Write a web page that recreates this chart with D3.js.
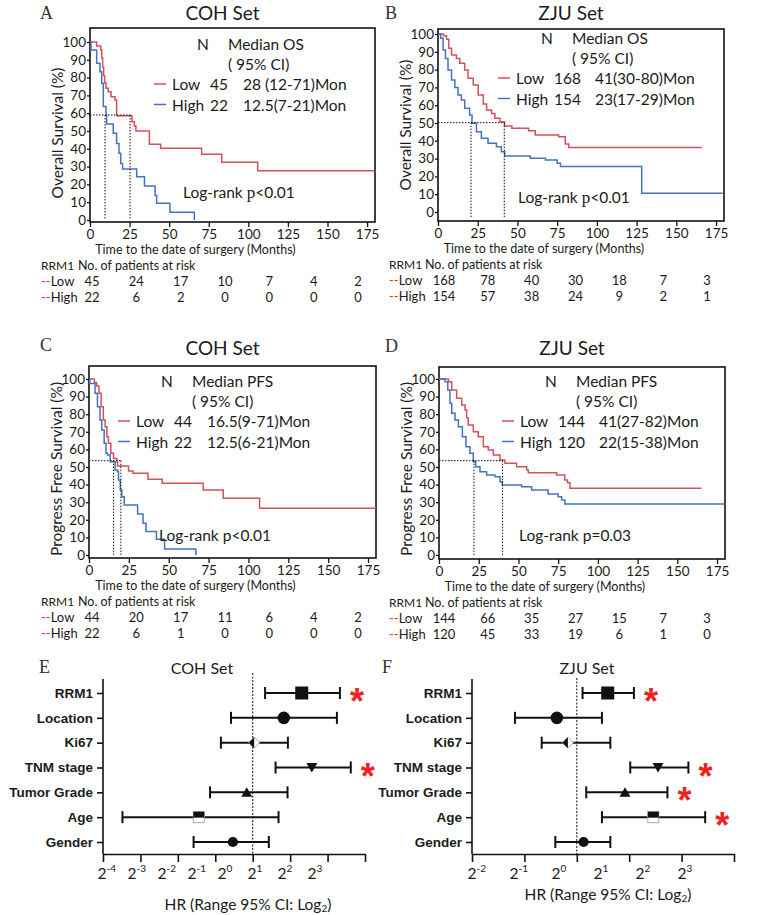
<!DOCTYPE html>
<html>
<head>
<meta charset="utf-8">
<script src="https://cdn.jsdelivr.net/npm/d3@7"></script>
<style>
  body { margin: 0; background: #fff; }
  text { fill: #1b1b1b; }
</style>
</head>
<body>
<svg id="fig" width="777" height="915"></svg>
<script>
// ---- data ----
const monthTicks = [0, 25, 50, 75, 100, 125, 150, 175];
const pctTicks = [0, 10, 20, 30, 40, 50, 60, 70, 80, 90, 100];

// Kaplan-Meier steps: [month, survival %]
const osCohLow = [[0,100],[4.2,97.8],[6.8,95.5],[7.4,91],[8,86],[8.6,81],[9.3,77],[10.1,74],[11.5,72],[13.3,69.3],[15.8,67.4],[16.8,58.6],[26.5,55.2],[28,52.8],[29,50],[37.5,42.5],[44.6,40.3],[70.5,36.9],[83.2,32.4],[105.9,27.7],[180,27.7]];
const osCohHigh = [[0,100],[0.6,95.5],[4.2,88],[6.3,83.3],[7.4,76.8],[8.4,63.7],[10.1,59],[10.5,54],[14.7,48.7],[16.8,43],[18.3,37.5],[19.4,31.8],[20.6,28.7],[29.5,24.3],[34.4,19.1],[41.1,13.7],[42.1,9.4],[50.5,4.3],[65.9,0]];
const osZjuLow = [[0,100],[3.4,99],[5.4,97],[6.8,92],[8.5,88.2],[11.6,86.3],[13.7,83.5],[16.8,79.8],[18.9,75.1],[22.2,71.3],[25.3,65.7],[28.5,60.7],[30.6,57.3],[33.7,55.4],[35.8,52.6],[39,50.7],[41.9,48.3],[46.5,47],[57,45.7],[61.2,43.3],[75.9,42.3],[80.1,38.2],[82.3,36.3],[166.1,36.3]];
const osZjuHigh = [[0,100],[1.7,97.6],[3.2,91],[4.7,86.3],[6.3,79.8],[8.5,74.2],[10.6,70],[12.6,65.7],[14.7,62.9],[16.8,58.3],[19.9,54.5],[21.4,49.8],[24.2,45.1],[27.3,41.4],[31.5,38.6],[36.8,36.7],[39.9,33.9],[42,31.5],[58.1,30.2],[67.6,29.2],[75,27.4],[77.1,25.5],[128.2,10.5],[179.2,10.5]];
const pfsCohLow = [[0,100],[3.4,98],[4.8,96],[6.3,91.9],[7.6,84.3],[9,76.7],[10.1,72.9],[11.2,67.2],[12.2,63.5],[13.7,57.8],[15.4,54.9],[17.5,53],[17.9,50.5],[24.8,47.7],[27.6,46.4],[37,43],[45.9,40.7],[71.6,36.9],[84.2,32.2],[107,26.5],[180,26.5]];
const pfsCohHigh = [[0,100],[0.5,97.5],[3.8,91.9],[5.3,84.3],[6.9,76.7],[8,71],[9.5,63.5],[10.7,57.8],[11.6,56.8],[13.3,53],[16.4,48.3],[17.9,47.3],[18.5,42.6],[19.6,36.9],[20.6,33.1],[22.1,28.4],[30.5,23.3],[33.9,18],[35.8,13.3],[42.3,8.9],[47.4,3.4],[67,0]];
const pfsZjuLow = [[0,100],[5.9,98.5],[8,93.8],[11.1,89],[14.3,85.2],[16.4,82.4],[17.4,78],[18.4,73.9],[21.6,70],[24.7,67.2],[27.9,61.5],[31,59.7],[34.2,56.8],[38.4,54],[41.5,52.1],[48.8,50.2],[55.2,48.3],[56.2,46.8],[74,45.5],[79.2,42.6],[80.9,41.1],[82.4,37.9],[165.2,37.9]];
const pfsZjuHigh = [[0,100],[3.8,98.5],[5.5,93.8],[6.9,86.2],[8,80.5],[10.1,76.7],[12.2,72.9],[14.7,67.2],[17,61.5],[19.5,57.8],[21.6,53],[23.1,50.2],[25.8,47.3],[30,45.5],[35.2,44.5],[38.4,41.6],[39.8,39.8],[52,38.8],[58.3,36.9],[68.7,34.7],[75,33.1],[77.2,31.2],[79.2,29],[180,29]];

// numbers at risk, columns 0..175 by 25
const riskOsCohLow = [45, 24, 17, 10, 7, 4, 2];
const riskOsCohHigh = [22, 6, 2, 0, 0, 0, 0];
const riskOsZjuLow = [168, 78, 40, 30, 18, 7, 3];
const riskOsZjuHigh = [154, 57, 38, 24, 9, 2, 1];
const riskPfsCohLow = [44, 20, 17, 11, 6, 4, 2];
const riskPfsCohHigh = [22, 6, 1, 0, 0, 0, 0];
const riskPfsZjuLow = [144, 66, 35, 27, 15, 7, 3];
const riskPfsZjuHigh = [120, 45, 33, 19, 6, 1, 0];

// forest plots (log2 HR)
const forestVars = ["RRM1", "Location", "Ki67", "TNM stage", "Tumor Grade", "Age", "Gender"];
const forestShapes = ["square", "circle", "ki67", "down", "up", "half", "dot"];
const cohHr = [1.31, 0.83, 0.04, 1.58, -0.16, -1.44, -0.53];
const cohLo = [0.33, -0.58, -0.85, 0.61, -1.14, -3.48, -1.58];
const cohHi = [2.33, 2.25, 0.94, 2.62, 0.93, 0.69, 0.43];
const cohSig = [true, false, false, true, false, false, false];
const zjuHr = [0.59, -0.38, -0.17, 1.55, 0.92, 1.46, 0.13];
const zjuLo = [0.11, -1.18, -0.67, 1.02, 0.18, 0.48, -0.41];
const zjuHi = [1.09, 0.48, 0.64, 2.13, 1.73, 2.45, 0.64];
const zjuSig = [true, false, false, true, true, true, false];

// ---- drawing ----
const svg = d3.select("#fig");
const RED = "#d4505c", BLUE = "#4373bd";
const SANS = "Lato, 'Open Sans', sans-serif";
const SERIF = "'Liberation Serif', 'DejaVu Serif', serif";
const ARIAL = "'Liberation Sans', Arial, sans-serif";

const kmPanels = [
  { letter: "A", title: "COH Set", yTitle: "Overall Survival (%)", medLabel: "Median OS",
    low: osCohLow, high: osCohHigh, riskLow: riskOsCohLow, riskHigh: riskOsCohHigh,
    lowText: ["Low", "45", "28 (12-71)Mon"], highText: ["High", "22", "12.5(7-21)Mon"],
    pText: "p<0.01", pSerif: true, median: { level: 59, times: [9.5, 25.3] },
    box: { left: 90, right: 375, top: 28, bottom: 222 }, y0: 220, y100: 42,
    letterXY: [40, 13], titleY: 12, legend: { x: 154, y: 84, medDx: 89 }, pXY: [183, 192],
    table: { labelX: 41, textX: 78, cols: [92, 358] } },
  { letter: "B", title: "ZJU Set", yTitle: "Overall Survival (%)", medLabel: "Median OS",
    low: osZjuLow, high: osZjuHigh, riskLow: riskOsZjuLow, riskHigh: riskOsZjuHigh,
    lowText: ["Low", "168", "41(30-80)Mon"], highText: ["High", "154", "23(17-29)Mon"],
    pText: "p<0.01", pSerif: true, median: { level: 50.2, times: [20.8, 41.7] },
    box: { left: 438, right: 724, top: 29, bottom: 221 }, y0: 212, y100: 34,
    letterXY: [385, 13], titleY: 12, legend: { x: 498, y: 78, medDx: 97 }, pXY: [518, 197],
    table: { labelX: 389, textX: 425, cols: [444, 707] } },
  { letter: "C", title: "COH Set", yTitle: "Progress Free Survival (%)", medLabel: "Median PFS",
    low: pfsCohLow, high: pfsCohHigh, riskLow: riskPfsCohLow, riskHigh: riskPfsCohHigh,
    lowText: ["Low", "44", "16.5(9-71)Mon"], highText: ["High", "22", "12.5(6-21)Mon"],
    pText: "p<0.01", pSerif: false, median: { level: 53.6, times: [15.4, 20] },
    box: { left: 89, right: 376, top: 366, bottom: 558 }, y0: 555, y100: 379,
    letterXY: [40, 345], titleY: 347, legend: { x: 118, y: 421, medDx: 89 }, pXY: [159, 535],
    table: { labelX: 41, textX: 78, cols: [92, 358] } },
  { letter: "D", title: "ZJU Set", yTitle: "Progress Free Survival (%)", medLabel: "Median PFS",
    low: pfsZjuLow, high: pfsZjuHigh, riskLow: riskPfsZjuLow, riskHigh: riskPfsZjuHigh,
    lowText: ["Low", "144", "41(27-82)Mon"], highText: ["High", "120", "22(15-38)Mon"],
    pText: "p=0.03", pSerif: false, median: { level: 53.6, times: [22, 40] },
    box: { left: 439, right: 725, top: 367, bottom: 559 }, y0: 555, y100: 379,
    letterXY: [385, 346], titleY: 347, legend: { x: 502, y: 421, medDx: 97 }, pXY: [519, 535],
    table: { labelX: 389, textX: 425, cols: [444, 707] } }
];

function drawKM(p) {
  const b = p.box;
  const g = svg.append("g");
  const x = d3.scaleLinear().domain([0, 180]).range([b.left, b.right]);
  const y = d3.scaleLinear().domain([0, 100]).range([p.y0, p.y100]);

  g.append("text").attr("x", p.letterXY[0]).attr("y", p.letterXY[1])
    .attr("dominant-baseline", "central").attr("font-family", SERIF).attr("font-size", 18)
    .style("fill", "#333").text(p.letter);
  g.append("text").attr("x", (b.left + b.right) / 2 - 10).attr("y", p.titleY)
    .attr("dominant-baseline", "central").attr("text-anchor", "middle")
    .attr("font-family", SANS).attr("font-size", 19).text(p.title);

  // frame
  g.append("rect").attr("x", b.left).attr("y", b.top)
    .attr("width", b.right - b.left).attr("height", b.bottom - b.top)
    .attr("fill", "none").attr("stroke", "#111").attr("stroke-width", 1.6);

  // axes
  const xa = g.append("g").attr("transform", `translate(0,${b.bottom})`)
    .call(d3.axisBottom(x).tickValues(monthTicks).tickSize(5).tickSizeOuter(0).tickPadding(2));
  xa.select(".domain").remove();
  const ya = g.append("g").attr("transform", `translate(${b.left},0)`)
    .call(d3.axisLeft(y).tickValues(pctTicks).tickSize(3).tickSizeOuter(0).tickPadding(1));
  ya.select(".domain").remove();
  [xa, ya].forEach(a => {
    a.selectAll("line").attr("stroke", "#111").attr("stroke-width", 1.3);
    a.selectAll("text").attr("font-family", SANS).attr("font-size", 13.5).style("fill", "#1b1b1b");
  });

  g.append("text")
    .attr("transform", `translate(${b.left - 33},${(p.y0 + p.y100) / 2 + 2}) rotate(-90)`)
    .attr("text-anchor", "middle").attr("dominant-baseline", "central")
    .attr("font-family", SANS).attr("font-size", 15.5).text(p.yTitle);
  g.append("text").attr("x", (b.left + b.right) / 2 - 37).attr("y", b.bottom + 27)
    .attr("text-anchor", "middle").attr("dominant-baseline", "central")
    .attr("font-family", SANS).attr("font-size", 12.5).text("Time to the date of surgery (Months)");

  // curves
  const line = d3.line().x(d => x(d[0])).y(d => y(d[1])).curve(d3.curveStepAfter);
  g.append("path").datum(p.low).attr("d", line).attr("fill", "none")
    .attr("stroke", RED).attr("stroke-width", 1.5);
  g.append("path").datum(p.high).attr("d", line).attr("fill", "none")
    .attr("stroke", BLUE).attr("stroke-width", 1.5);

  // median guides
  const m = p.median;
  const dots = g.append("g").attr("stroke", "#111").attr("stroke-width", 1).attr("stroke-dasharray", "1.5,1.5");
  dots.append("line").attr("x1", x(0)).attr("x2", x(d3.max(m.times)))
    .attr("y1", y(m.level)).attr("y2", y(m.level));
  m.times.forEach(t => {
    dots.append("line").attr("x1", x(t)).attr("x2", x(t))
      .attr("y1", y(m.level)).attr("y2", b.bottom - 3);
  });

  // legend
  const lg = p.legend;
  const lt = g.append("g").attr("font-family", SANS).attr("font-size", 15.5);
  lt.append("text").attr("x", lg.x + 49).attr("y", lg.y - 40).attr("text-anchor", "middle")
    .attr("dominant-baseline", "central").text("N");
  lt.append("text").attr("x", lg.x + 74).attr("y", lg.y - 40)
    .attr("dominant-baseline", "central").text(p.medLabel);
  lt.append("text").attr("x", lg.x + 74).attr("y", lg.y - 20)
    .attr("dominant-baseline", "central").text("( 95% CI)");
  [[p.lowText, RED, 0], [p.highText, BLUE, 20.5]].forEach(([t, c, dy]) => {
    const yy = lg.y + dy;
    lt.append("line").attr("x1", lg.x).attr("x2", lg.x + 12).attr("y1", yy).attr("y2", yy)
      .attr("stroke", c).attr("stroke-width", 1.5);
    lt.append("text").attr("x", lg.x + 18).attr("y", yy).attr("dominant-baseline", "central").text(t[0]);
    lt.append("text").attr("x", lg.x + 56).attr("y", yy).attr("dominant-baseline", "central").text(t[1]);
    lt.append("text").attr("x", lg.x + lg.medDx).attr("y", yy).attr("dominant-baseline", "central").text(t[2]);
  });
  const pt = lt.append("text").attr("x", p.pXY[0]).attr("y", p.pXY[1]).attr("dominant-baseline", "central");
  pt.append("tspan").text("Log-rank ");
  pt.append("tspan").attr("font-family", p.pSerif ? SERIF : SANS)
    .attr("font-size", p.pSerif ? 17 : 15.5).text(p.pText.slice(0, 1));
  pt.append("tspan").text(p.pText.slice(1));

  // numbers at risk
  const tb = p.table;
  const col = d3.scalePoint().domain(d3.range(p.riskLow.length)).range(tb.cols);
  const tg = g.append("g").attr("font-family", SANS).attr("font-size", 12.5);
  tg.append("text").attr("x", tb.labelX).attr("y", b.bottom + 43).attr("font-size", 12)
    .attr("dominant-baseline", "central").text("RRM1");
  tg.append("text").attr("x", tb.textX).attr("y", b.bottom + 43)
    .attr("dominant-baseline", "central").text("No. of patients at risk");
  [["Low", p.riskLow, 59], ["High", p.riskHigh, 75]].forEach(([name, vals, dy]) => {
    const t = tg.append("text").attr("x", tb.labelX).attr("y", b.bottom + dy)
      .attr("font-size", 13).attr("dominant-baseline", "central");
    t.append("tspan").style("fill", "#e0362e").text("--");
    t.append("tspan").text(name);
    tg.selectAll(null).data(vals).enter().append("text")
      .attr("x", (d, i) => col(i)).attr("y", b.bottom + dy).attr("font-size", 13)
      .attr("text-anchor", "middle").attr("dominant-baseline", "central").text(d => d);
  });
}

kmPanels.forEach(drawKM);

// ---- forest plots ----
const forestPanels = [
  { letter: "E", title: "COH Set", hr: cohHr, lo: cohLo, hi: cohHi, sig: cohSig,
    domain: [-4, 3], left: 103, right: 365, exps: [-4, -3, -2, -1, 0, 1, 2, 3], labelRange: [102, 312],
    letterXY: [39, 667], titleXY: [202, 667], axisTitleXY: [248, 904], dotTop: 673 },
  { letter: "F", title: "ZJU Set", hr: zjuHr, lo: zjuLo, hi: zjuHi, sig: zjuSig,
    domain: [-2, 3], left: 472, right: 734, exps: [-2, -1, 0, 1, 2, 3], labelRange: [472, 682],
    letterXY: [382, 667], titleXY: [587, 667], axisTitleXY: [608, 894], dotTop: 678 }
];

function drawForest(p) {
  const g = svg.append("g");
  const axisY = 854, axisTop = 679;
  const x = d3.scaleLinear().domain(p.domain).range([p.left, p.right]);
  const y = d3.scalePoint().domain(forestVars).range([693, 842]);
  const lab = d3.scalePoint().domain(p.exps).range(p.labelRange);

  g.append("text").attr("x", p.letterXY[0]).attr("y", p.letterXY[1])
    .attr("dominant-baseline", "central").attr("font-family", SERIF).attr("font-size", 18)
    .style("fill", "#333").text(p.letter);
  g.append("text").attr("x", p.titleXY[0]).attr("y", p.titleXY[1]).attr("text-anchor", "middle")
    .attr("dominant-baseline", "central").attr("font-family", SANS).attr("font-size", 16).text(p.title);

  // y axis with row labels
  const ya = g.append("g").attr("transform", `translate(${p.left},0)`)
    .call(d3.axisLeft(y).tickSize(6).tickPadding(4));
  ya.select(".domain").remove();
  ya.selectAll("line").attr("stroke", "#111").attr("stroke-width", 1.6);
  ya.selectAll("text").attr("font-family", ARIAL).attr("font-weight", "bold")
    .attr("font-size", 13.5).style("fill", "#1b1b1b");
  g.append("line").attr("x1", p.left).attr("x2", p.left).attr("y1", axisTop).attr("y2", axisY)
    .attr("stroke", "#111").attr("stroke-width", 1.6);

  // x axis: tick marks on the log2 scale, labels as drawn in the figure
  const xa = g.append("g").attr("transform", `translate(0,${axisY})`)
    .call(d3.axisBottom(x).tickValues(d3.range(p.domain[0], p.domain[1] + 1))
      .tickSize(8).tickSizeOuter(0).tickFormat(""));
  xa.select(".domain").attr("stroke", "#111").attr("stroke-width", 1.6);
  xa.selectAll("line").attr("stroke", "#111").attr("stroke-width", 1.6);
  p.exps.forEach(e => {
    const t = g.append("text").attr("x", lab(e) - 4.5).attr("y", 879)
      .attr("font-family", SANS).attr("font-size", 15.5);
    t.append("tspan").text("2");
    t.append("tspan").attr("font-size", 10).attr("dy", -7).text(e < 0 ? "-" + (-e) : String(e));
  });
  const at = g.append("text").attr("x", p.axisTitleXY[0]).attr("y", p.axisTitleXY[1])
    .attr("text-anchor", "middle").attr("dominant-baseline", "central")
    .attr("font-family", SANS).attr("font-size", 15.5);
  at.append("tspan").text("HR (Range 95% CI: Log");
  at.append("tspan").attr("font-size", 10).attr("dy", 4).text("2");
  at.append("tspan").attr("dy", -4).text(")");

  // reference line at HR = 1
  g.append("line").attr("x1", x(0)).attr("x2", x(0)).attr("y1", p.dotTop).attr("y2", axisY)
    .attr("stroke", "#111").attr("stroke-width", 1).attr("stroke-dasharray", "2,1.5");

  // CI bars
  const rows = forestVars.map((v, i) => ({ v, shape: forestShapes[i], hr: p.hr[i], lo: p.lo[i], hi: p.hi[i], sig: p.sig[i] }));
  const bars = g.append("g").attr("stroke", "#111").attr("stroke-width", 2);
  rows.forEach(r => {
    const yy = y(r.v);
    bars.append("line").attr("x1", x(r.lo)).attr("x2", x(r.hi)).attr("y1", yy).attr("y2", yy);
    [r.lo, r.hi].forEach(c => bars.append("line").attr("x1", x(c)).attr("x2", x(c)).attr("y1", yy - 6).attr("y2", yy + 6));
  });

  // markers
  rows.forEach(r => {
    const cx = x(r.hr), cy = y(r.v);
    if (r.shape === "square") {
      g.append("rect").attr("x", cx - 6.5).attr("y", cy - 6.5).attr("width", 13).attr("height", 13).attr("fill", "#111");
    } else if (r.shape === "circle") {
      g.append("circle").attr("cx", cx).attr("cy", cy).attr("r", 6.3).attr("fill", "#111");
    } else if (r.shape === "dot") {
      g.append("circle").attr("cx", cx).attr("cy", cy).attr("r", 5.1).attr("fill", "#111");
    } else if (r.shape === "ki67") {
      g.append("path").attr("d", `M${cx - 5.5},${cy}L${cx},${cy - 5.5}L${cx + 5.5},${cy}L${cx},${cy + 5.5}Z`)
        .attr("fill", "#fff").attr("stroke", "#aaa").attr("stroke-width", 1);
      g.append("path").attr("d", `M${cx - 5.5},${cy}L${cx},${cy - 5.5}L${cx},${cy + 5.5}Z`).attr("fill", "#111");
    } else if (r.shape === "down") {
      g.append("path").attr("d", `M${cx - 5.5},${cy - 4.5}L${cx + 5.5},${cy - 4.5}L${cx},${cy + 5}Z`).attr("fill", "#111");
    } else if (r.shape === "up") {
      g.append("path").attr("d", `M${cx - 5.5},${cy + 4.5}L${cx + 5.5},${cy + 4.5}L${cx},${cy - 5}Z`).attr("fill", "#111");
    } else if (r.shape === "half") {
      g.append("rect").attr("x", cx - 5.5).attr("y", cy - 5.5).attr("width", 11).attr("height", 11)
        .attr("fill", "#fff").attr("stroke", "#aaa").attr("stroke-width", 1);
      g.append("rect").attr("x", cx - 5.5).attr("y", cy - 5.5).attr("width", 11).attr("height", 6).attr("fill", "#111");
    }
    if (r.sig) {
      g.append("text").attr("x", x(r.hi) + 17).attr("y", cy + 21).attr("text-anchor", "middle")
        .attr("font-family", ARIAL).attr("font-weight", "bold").attr("font-size", 36)
        .style("fill", "#ee2222").text("*");
    }
  });
}

forestPanels.forEach(drawForest);
</script>
</body>
</html>
